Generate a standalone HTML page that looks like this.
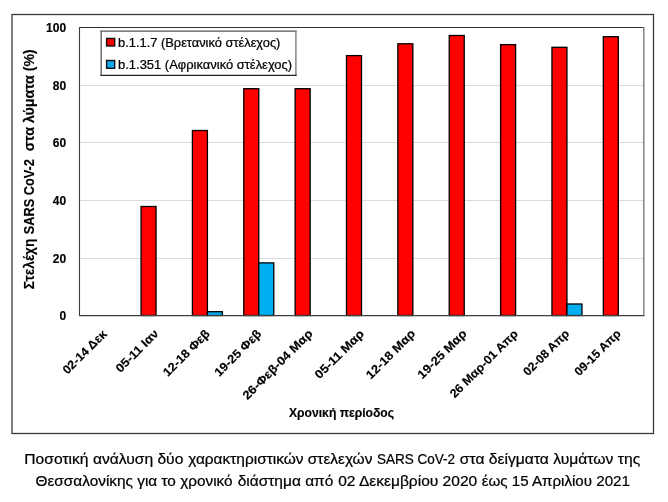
<!DOCTYPE html>
<html><head><meta charset="utf-8"><style>
html,body{margin:0;padding:0;background:#fff;width:668px;height:502px;overflow:hidden}
svg{display:block;will-change:transform}
text{font-family:"Liberation Sans",sans-serif;fill:#000}
.b{font-weight:bold;stroke:#000;stroke-width:0.15px}
.r{font-weight:normal;stroke:#000;stroke-width:0.22px}
</style></head><body>
<svg width="668" height="502" viewBox="0 0 668 502">
<rect x="0" y="0" width="668" height="502" fill="#fff"/>
<rect x="12" y="14.5" width="641.5" height="419" fill="none" stroke="#3a3a3a" stroke-width="1.3"/>
<line x1="79.0" y1="85.50" x2="644.0" y2="85.50" stroke="#dadada" stroke-width="1"/>
<line x1="79.0" y1="142.50" x2="644.0" y2="142.50" stroke="#dadada" stroke-width="1"/>
<line x1="79.0" y1="200.50" x2="644.0" y2="200.50" stroke="#dadada" stroke-width="1"/>
<line x1="79.0" y1="258.50" x2="644.0" y2="258.50" stroke="#dadada" stroke-width="1"/>
<line x1="79" y1="27.5" x2="644.0" y2="27.5" stroke="#333" stroke-width="1.1"/>
<line x1="643.8" y1="27" x2="643.8" y2="315.5" stroke="#7a7a7a" stroke-width="1.4"/>
<line x1="79.5" y1="27" x2="79.5" y2="315.5" stroke="#3a3a3a" stroke-width="1.1"/>
<rect x="141.05" y="206.50" width="15.0" height="109.00" fill="#ff0000" stroke="#000" stroke-width="1.3"/>
<rect x="192.41" y="130.50" width="15.0" height="185.00" fill="#ff0000" stroke="#000" stroke-width="1.3"/>
<rect x="207.41" y="311.70" width="15.0" height="3.80" fill="#00b0f0" stroke="#000" stroke-width="1.3"/>
<rect x="243.77" y="88.70" width="15.0" height="226.80" fill="#ff0000" stroke="#000" stroke-width="1.3"/>
<rect x="258.77" y="262.90" width="15.0" height="52.60" fill="#00b0f0" stroke="#000" stroke-width="1.3"/>
<rect x="295.14" y="88.70" width="15.0" height="226.80" fill="#ff0000" stroke="#000" stroke-width="1.3"/>
<rect x="346.50" y="55.60" width="15.0" height="259.90" fill="#ff0000" stroke="#000" stroke-width="1.3"/>
<rect x="397.86" y="43.80" width="15.0" height="271.70" fill="#ff0000" stroke="#000" stroke-width="1.3"/>
<rect x="449.23" y="35.50" width="15.0" height="280.00" fill="#ff0000" stroke="#000" stroke-width="1.3"/>
<rect x="500.59" y="44.60" width="15.0" height="270.90" fill="#ff0000" stroke="#000" stroke-width="1.3"/>
<rect x="551.95" y="47.30" width="15.0" height="268.20" fill="#ff0000" stroke="#000" stroke-width="1.3"/>
<rect x="566.95" y="304.00" width="15.0" height="11.50" fill="#00b0f0" stroke="#000" stroke-width="1.3"/>
<rect x="603.32" y="36.70" width="15.0" height="278.80" fill="#ff0000" stroke="#000" stroke-width="1.3"/>
<line x1="79" y1="315.6" x2="644.5" y2="315.6" stroke="#404040" stroke-width="1.3"/>
<text x="66.1" y="32.10" text-anchor="end" class="b" font-size="12">100</text>
<text x="66.1" y="89.72" text-anchor="end" class="b" font-size="12">80</text>
<text x="66.1" y="147.34" text-anchor="end" class="b" font-size="12">60</text>
<text x="66.1" y="204.96" text-anchor="end" class="b" font-size="12">40</text>
<text x="66.1" y="262.58" text-anchor="end" class="b" font-size="12">20</text>
<text x="66.1" y="320.20" text-anchor="end" class="b" font-size="12">0</text>
<text transform="translate(33.5,289.20) rotate(-90)" class="b" font-size="14.0" textLength="50.55" lengthAdjust="spacingAndGlyphs">Στελέχη</text>
<text transform="translate(33.5,234.17) rotate(-90)" class="b" font-size="14.0" textLength="74.98" lengthAdjust="spacingAndGlyphs">SARS CoV-2</text>
<text transform="translate(33.5,151.35) rotate(-90)" class="b" font-size="14.0" textLength="102.05" lengthAdjust="spacingAndGlyphs">στα λύματα (%)</text>
<text transform="translate(107.54,334.74) rotate(-45)" text-anchor="end" class="b" font-size="12.0" textLength="56.70" lengthAdjust="spacingAndGlyphs">02-14 Δεκ</text>
<text transform="translate(159.32,334.33) rotate(-45)" text-anchor="end" class="b" font-size="12.0" textLength="55.00" lengthAdjust="spacingAndGlyphs">05-11 Ιαν</text>
<text transform="translate(210.56,334.45) rotate(-45)" text-anchor="end" class="b" font-size="12.0" textLength="60.44" lengthAdjust="spacingAndGlyphs">12-18 Φεβ</text>
<text transform="translate(261.93,334.45) rotate(-45)" text-anchor="end" class="b" font-size="12.0" textLength="60.54" lengthAdjust="spacingAndGlyphs">19-25 Φεβ</text>
<text transform="translate(313.35,334.39) rotate(-45)" text-anchor="end" class="b" font-size="12.0" textLength="93.27" lengthAdjust="spacingAndGlyphs">26-Φεβ-04 Μαρ</text>
<text transform="translate(364.71,334.39) rotate(-45)" text-anchor="end" class="b" font-size="12.0" textLength="63.82" lengthAdjust="spacingAndGlyphs">05-11 Μαρ</text>
<text transform="translate(416.07,334.39) rotate(-45)" text-anchor="end" class="b" font-size="12.0" textLength="64.03" lengthAdjust="spacingAndGlyphs">12-18 Μαρ</text>
<text transform="translate(467.43,334.40) rotate(-45)" text-anchor="end" class="b" font-size="12.0" textLength="63.72" lengthAdjust="spacingAndGlyphs">19-25 Μαρ</text>
<text transform="translate(518.78,334.41) rotate(-45)" text-anchor="end" class="b" font-size="12.0" textLength="90.72" lengthAdjust="spacingAndGlyphs">26 Μαρ-01 Απρ</text>
<text transform="translate(570.14,334.41) rotate(-45)" text-anchor="end" class="b" font-size="12.0" textLength="59.65" lengthAdjust="spacingAndGlyphs">02-08 Απρ</text>
<text transform="translate(621.50,334.41) rotate(-45)" text-anchor="end" class="b" font-size="12.0" textLength="59.65" lengthAdjust="spacingAndGlyphs">09-15 Απρ</text>
<text x="288.99" y="416.6" class="b" font-size="12.3" textLength="105.09" lengthAdjust="spacingAndGlyphs">Χρονική περίοδος</text>
<rect x="101" y="31" width="195" height="44.5" fill="#fff"/>
<line x1="100.5" y1="31.1" x2="296.5" y2="31.1" stroke="#555" stroke-width="1.4"/>
<line x1="101.2" y1="30.5" x2="101.2" y2="75.9" stroke="#6a6a6a" stroke-width="1.5"/>
<line x1="295.9" y1="30.5" x2="295.9" y2="75.9" stroke="#858585" stroke-width="1.5"/>
<line x1="100.5" y1="75.3" x2="296.6" y2="75.3" stroke="#222" stroke-width="1.2"/>
<rect x="106.6" y="38.4" width="8.1" height="7.6" fill="#f00000" stroke="#111" stroke-width="1.4"/>
<rect x="106.6" y="60.5" width="8.1" height="7.8" fill="#10a8e8" stroke="#111" stroke-width="1.4"/>
<text x="118.08" y="46.5" class="r" font-size="12.0" textLength="162.33" lengthAdjust="spacingAndGlyphs">b.1.1.7 (Βρετανικό στέλεχος)</text>
<text x="118.07" y="68.6" class="r" font-size="12.0" textLength="174.04" lengthAdjust="spacingAndGlyphs">b.1.351 (Αφρικανικό στέλεχος)</text>
<text x="24.32" y="463.7" class="r" font-size="14.6" textLength="159.03" lengthAdjust="spacingAndGlyphs">Ποσοτική ανάλυση δύο</text>
<text x="188.23" y="463.7" class="r" font-size="14.6" textLength="184.15" lengthAdjust="spacingAndGlyphs">χαρακτηριστικών στελεχών</text>
<text x="376.88" y="463.7" class="r" font-size="14.6" textLength="78.20" lengthAdjust="spacingAndGlyphs">SARS CoV-2</text>
<text x="459.75" y="463.7" class="r" font-size="14.6" textLength="180.44" lengthAdjust="spacingAndGlyphs">στα δείγματα λυμάτων της</text>
<text x="35.57" y="485.5" class="r" font-size="14.6" textLength="197.07" lengthAdjust="spacingAndGlyphs">Θεσσαλονίκης για το χρονικό</text>
<text x="237.65" y="485.5" class="r" font-size="14.6" textLength="95.79" lengthAdjust="spacingAndGlyphs">διάστημα από</text>
<text x="338.19" y="485.5" class="r" font-size="14.6" textLength="139.00" lengthAdjust="spacingAndGlyphs">02 Δεκεμβρίου 2020</text>
<text x="481.68" y="485.5" class="r" font-size="14.6" textLength="148.25" lengthAdjust="spacingAndGlyphs">έως 15 Απριλίου 2021</text>
</svg>
</body></html>
